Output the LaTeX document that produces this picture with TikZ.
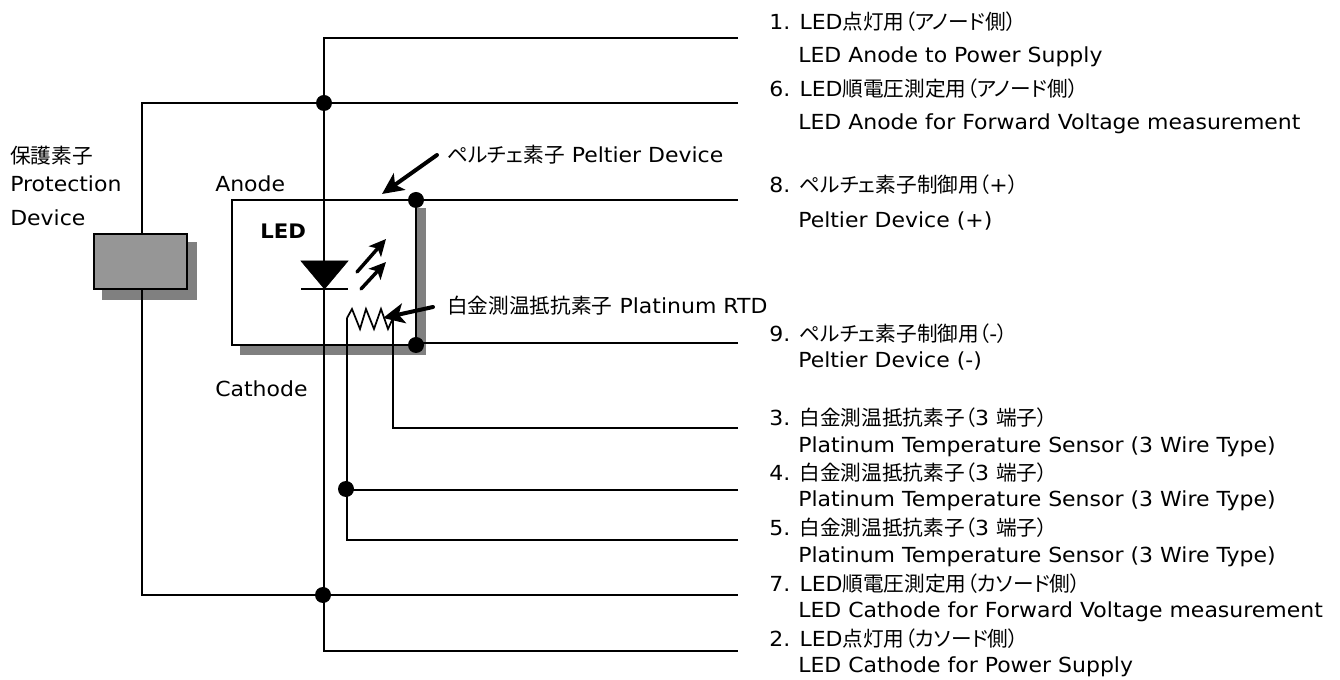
\documentclass[tikz,border=0pt]{standalone}
\usepackage{fontspec}
\setmainfont[FakeStretch=1.06]{DejaVu Sans}
\newfontfamily\cjk[RawFeature=+palt]{Noto Sans CJK JP}
\usetikzlibrary{arrows.meta}
\tikzset{
  x=0.75pt,y=-0.75pt,
  wire/.style={line width=1.5pt,black},
  dot/.style={circle,fill=black,inner sep=0pt,minimum size=12pt},
  lbl/.style={anchor=base west,inner sep=0pt,font=\fontsize{15.55pt}{17pt}\selectfont},
  shade/.style={fill=black!50,draw=none},
  pointer/.style={line width=3pt,-{Stealth[length=16pt,width=15pt,inset=4pt]}},
  ray/.style={line width=2.6pt,-{Stealth[length=12.5pt,width=12pt,inset=3pt]}},
}
\newcommand{\J}[1]{{\cjk\fontsize{15.5pt}{17pt}\selectfont #1}}
\begin{document}
\begin{tikzpicture}
\useasboundingbox (0,0) rectangle (1340,680);
\fill[white] (0,0) rectangle (1340,680);
% shadows
\fill[shade] (240,208) rectangle (426,355);
\fill[white] (232,200) rectangle (416,345);
\fill[shade] (102,242) rectangle (197,300);
% terminals
\coordinate (t1) at (738,38);
\coordinate (t6) at (738,103);
\coordinate (t8) at (738,200);
\coordinate (t9) at (738,343);
\coordinate (t3) at (738,428);
\coordinate (t4) at (738,490);
\coordinate (t5) at (738,540);
\coordinate (t7) at (738,595);
\coordinate (t2) at (738,651);
\node[dot] (d1) at (324,103) {};
\node[dot] (d2) at (323,595) {};
\node[dot] (d3) at (416,200) {};
\node[dot] (d4) at (416,345) {};
\node[dot] (d5) at (346,489) {};
\coordinate (c1) at (324,38);
\coordinate (c2) at (324,651);
\coordinate (c3) at (142,103);
\coordinate (c4) at (142,595);
\coordinate (c5) at (347,540);
\coordinate (c6) at (347,318);
\coordinate (c7) at (393,428);
\coordinate (c8) at (393,318);
\draw[wire] (t1) -- (c1) -- (c2) -- (t2);
\draw[wire] (t6) -- (c3) -- (c4) -- (t7);
\draw[wire] (t8) -- (d3 |- t8);
\draw[wire] (t9) -- (d4 |- t9);
\draw[wire] (t3) -- (c7) -- (c8);
\draw[wire] (t4) -- (d5 |- t4);
\draw[wire] (t5) -- (c5) -- (c6);
% peltier box
\draw[wire] (232,200) rectangle (416,345);
% protection device
\filldraw[draw=black,line width=1.6pt,fill=black!41] (94,234) rectangle (187,289);
% led
\filldraw[black] (301,261) -- (348,261) -- (324.5,289) -- cycle;
\draw[wire] (301,289) -- (348,289);
\draw[ray,line cap=round] (357,272) -- (386,239);
\draw[ray,line cap=round] (361,289) -- (386,262);
% resistor
\draw[line width=1.3pt] (c6) -- (352,309) -- (360,329) -- (366,309) -- (374,329) -- (381,309) -- (388,329) -- (c8);
% pointers
\draw[pointer,line cap=round] (437,155) -- (382,194);
\draw[pointer,line cap=round] (433,307) -- (383,318);
% text
\node[lbl] (n1) at (769,30) {1. LED\J{点灯用（アノード側）}};
\node[lbl] (n1b) at (798,63) {LED Anode to Power Supply};
\node[lbl] (n6) at (769,97) {6. LED\J{順電圧測定用（アノード側）}};
\node[lbl] (n6b) at (798,130) {LED Anode for Forward Voltage measurement};
\node[lbl] (n8) at (769,193) {8. \J{ペルチェ素子制御用（}+\J{）}};
\node[lbl] (n8b) at (798,228) {Peltier Device (+)};
\node[lbl] (n9) at (769,342) {9. \J{ペルチェ素子制御用（}-\J{）}};
\node[lbl] (n9b) at (798,368) {Peltier Device (-)};
\node[lbl] (n3) at (769,426) {3. \J{白金測温抵抗素子（}3 \J{端子）}};
\node[lbl] (n3b) at (798,453) {Platinum Temperature Sensor (3 Wire Type)};
\node[lbl] (n4) at (769,481) {4. \J{白金測温抵抗素子（}3 \J{端子）}};
\node[lbl] (n4b) at (798,507) {Platinum Temperature Sensor (3 Wire Type)};
\node[lbl] (n5) at (769,536) {5. \J{白金測温抵抗素子（}3 \J{端子）}};
\node[lbl] (n5b) at (798,563) {Platinum Temperature Sensor (3 Wire Type)};
\node[lbl] (n7) at (769,592) {7. LED\J{順電圧測定用（カソード側）}};
\node[lbl] (n7b) at (798,618) {LED Cathode for Forward Voltage measurement};
\node[lbl] (n2) at (769,647) {2. LED\J{点灯用（カソード側）}};
\node[lbl] (n2b) at (798,673) {LED Cathode for Power Supply};
\node[lbl] (p1) at (447,163) {\J{ペルチェ素子} Peltier Device};
\node[lbl] (p2) at (447,314) {\J{白金測温抵抗素子} Platinum RTD};
\node[lbl] (a) at (215,192) {Anode};
\node[lbl] (k) at (215,397) {Cathode};
\node[lbl,font=\fontsize{15pt}{17pt}\selectfont\bfseries] (l) at (260,239) {LED};
\node[lbl] (s1) at (10,164) {\J{保護素子}};
\node[lbl] (s2) at (10,192) {Protection};
\node[lbl] (s3) at (10,226) {Device};
\end{tikzpicture}
\end{document}
